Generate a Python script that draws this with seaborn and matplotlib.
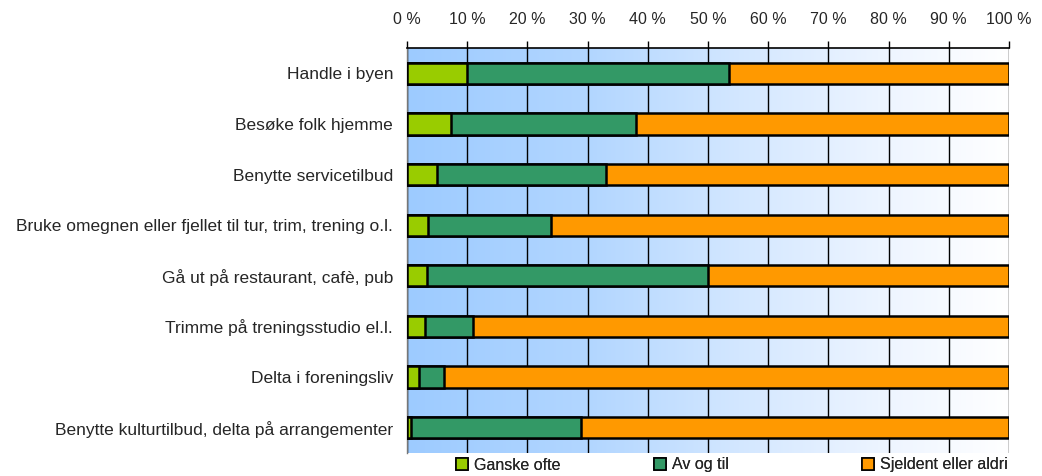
import numpy as np
import pandas as pd
import matplotlib
matplotlib.use("Agg")
import matplotlib.pyplot as plt
from matplotlib.colors import LinearSegmentedColormap
from matplotlib.patches import Patch
import seaborn as sns

categories = [
    "Handle i byen",
    "Besøke folk hjemme",
    "Benytte servicetilbud",
    "Bruke omegnen eller fjellet til tur, trim, trening o.l.",
    "Gå ut på restaurant, cafè, pub",
    "Trimme på treningsstudio el.l.",
    "Delta i foreningsliv",
    "Benytte kulturtilbud, delta på arrangementer",
]
ganske_ofte = [10.0, 7.3, 5.0, 3.5, 3.3, 3.0, 2.0, 0.7]
av_og_til = [43.5, 30.7, 28.0, 20.5, 46.7, 8.0, 4.1, 28.2]
sjelden = [46.5, 62.0, 67.0, 76.0, 50.0, 89.0, 93.9, 71.1]
series_names = ["Ganske ofte", "Av og til", "Sjeldent eller aldri"]
colors = ["#99CC00", "#339966", "#FF9900"]
xticks = list(range(0, 101, 10))
xtick_labels = [f"{v} %" for v in xticks]

sns.set_theme(style="white")
plt.rcParams["font.family"] = ["Liberation Sans", "DejaVu Sans"]

df = pd.DataFrame({
    "cat": categories,
    "g": ganske_ofte,
    "a": av_og_til,
    "s": sjelden,
})
df["c1"] = df["g"]
df["c2"] = df["g"] + df["a"]
df["c3"] = df["g"] + df["a"] + df["s"]

fig = plt.figure(figsize=(10.42, 4.76), dpi=100)
ax = fig.add_axes([407 / 1042, 1 - 453 / 476, 602 / 1042, 405 / 476])

# gradient background
grad = np.linspace(0, 1, 256).reshape(1, -1)
cmap = LinearSegmentedColormap.from_list(
    "bg", [(0.0, "#9DCBFF"), (0.3, "#B2D6FF"), (0.55, "#D3E7FF"),
           (0.8, "#EEF5FF"), (1.0, "#FFFFFF")])
ax.imshow(grad, extent=[0, 100, len(categories) - 0.5, -0.5], aspect="auto",
          cmap=cmap, zorder=0, interpolation="bicubic")

for col, c in zip(["c3", "c2", "c1"], colors[::-1]):
    sns.barplot(data=df, y="cat", x=col, orient="h", color=c, width=0.42,
                edgecolor="black", linewidth=1.8, saturation=1, ax=ax, zorder=3)

ax.set_xlim(0, 100)
ax.set_ylim(len(categories) - 0.5, -0.5)
ax.set_xlabel("")
ax.set_ylabel("")

ax.xaxis.tick_top()
ax.set_xticks(xticks)
ax.set_xticklabels(xtick_labels, fontsize=11.5)
ax.tick_params(axis="x", which="major", direction="out", length=5, width=1,
               color="black", pad=10)
ax.grid(axis="x", color="black", linewidth=1, zorder=1)
ax.set_axisbelow(True)

ax.set_yticks(range(len(categories)))
ax.set_yticklabels(categories, fontsize=12.5)
ax.tick_params(axis="y", which="major", length=0, pad=10)
ax.set_yticks(np.arange(-0.5, len(categories), 1), minor=True)
ax.tick_params(axis="y", which="minor", direction="out", length=5, width=1, color="#555555")

for s in ["bottom", "right"]:
    ax.spines[s].set_visible(False)
ax.spines["top"].set_color("black")
ax.spines["top"].set_linewidth(1.2)
ax.spines["left"].set_color("#777777")
ax.spines["left"].set_linewidth(1)

legend_x = [456, 654, 862]
for name, c, lx in zip(series_names, colors, legend_x):
    h = Patch(facecolor=c, edgecolor="black", linewidth=1.2)
    leg = fig.legend([h], [name], loc="center left",
                     bbox_to_anchor=(lx / 1042, 1 - 465 / 476),
                     frameon=False, fontsize=11.5, handlelength=0.75, handleheight=0.75,
                     handletextpad=0.4, borderaxespad=0, borderpad=0)
    fig.add_artist(leg)

fig.savefig("out.png", dpi=100)
